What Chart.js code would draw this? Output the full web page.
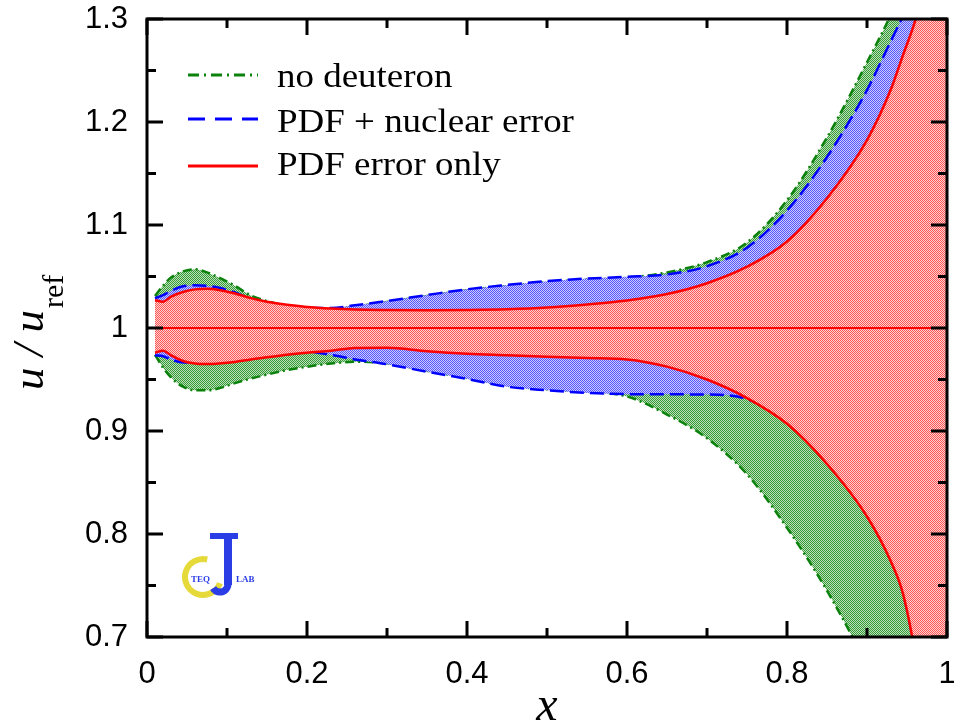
<!DOCTYPE html>
<html>
<head>
<meta charset="utf-8">
<script src="https://cdn.jsdelivr.net/npm/chart.js@4.4.1/dist/chart.umd.min.js"></script>
<style>
  html, body { margin: 0; padding: 0; background: #fff; }
  #wrap { width: 954px; height: 724px; }
</style>
</head>
<body>
<div id="wrap"><canvas id="myChart"></canvas></div>
<script>
// values
const xVals = [0.01, 0.02, 0.03, 0.045, 0.06, 0.075, 0.09, 0.11, 0.13, 0.15, 0.175, 0.2, 0.23, 0.26, 0.3,
  0.35, 0.4, 0.45, 0.5, 0.55, 0.6, 0.65, 0.7, 0.75, 0.8, 0.85, 0.9, 0.93, 0.945, 0.96, 1.0];

// no deuteron band
const noDeutHi = [1.031, 1.041, 1.049, 1.055, 1.057, 1.054, 1.049, 1.041, 1.0315, 1.0262, 1.0215, 1.0195, 1.018, 1.021, 1.0252,
  1.031, 1.0366, 1.0408, 1.0445, 1.047, 1.0487, 1.054, 1.064, 1.083, 1.124, 1.185, 1.258, 1.305, 1.335, 1.37, 1.52];
const noDeutLo = [0.974, 0.9615, 0.952, 0.943, 0.9395, 0.9395, 0.9415, 0.9465, 0.951, 0.9548, 0.9592, 0.9624, 0.9655, 0.9672, 0.9658,
  0.9585, 0.9515, 0.944, 0.9405, 0.938, 0.9335, 0.916, 0.893, 0.858, 0.806, 0.745, 0.672, 0.62, 0.59, 0.56, 0.46];

// PDF + nuclear error band
const nuclearHi = [1.0288, 1.032, 1.036, 1.0405, 1.0415, 1.041, 1.039, 1.0345, 1.028, 1.0245, 1.0215, 1.0195, 1.0195, 1.022, 1.0262,
  1.032, 1.0376, 1.0418, 1.0455, 1.048, 1.0497, 1.052, 1.060, 1.078, 1.114, 1.166, 1.231, 1.279, 1.303, 1.33, 1.48];
const nuclearLo = [0.9735, 0.9725, 0.9695, 0.9665, 0.9665, 0.966, 0.9665, 0.968, 0.9705, 0.9725, 0.975, 0.977, 0.9738, 0.9695, 0.9648,
  0.9575, 0.9505, 0.943, 0.9395, 0.937, 0.9358, 0.9356, 0.9354, 0.931, 0.908, 0.869, 0.818, 0.774, 0.743, 0.686, 0.481];

// PDF error only band
const pdfHi = [1.027, 1.0255, 1.0305, 1.035, 1.0375, 1.038, 1.037, 1.0335, 1.029, 1.0255, 1.0225, 1.0205, 1.019, 1.018, 1.0175,
  1.0172, 1.0175, 1.0182, 1.0198, 1.0228, 1.0268, 1.033, 1.0435, 1.0595, 1.084, 1.126, 1.1825, 1.232, 1.265, 1.298, 1.42];
const pdfLo = [0.976, 0.978, 0.9735, 0.968, 0.9655, 0.965, 0.9655, 0.967, 0.9695, 0.9715, 0.974, 0.976, 0.978, 0.9805, 0.9808,
  0.9775, 0.975, 0.9735, 0.972, 0.9708, 0.9695, 0.9625, 0.950, 0.932, 0.907, 0.868, 0.817, 0.773, 0.742, 0.685, 0.48];

// reference line u/u_ref = 1
const refX = [0.01, 1.0];
const refY = [1, 1];

// axis ticks
const xMajor = [0, 0.2, 0.4, 0.6, 0.8, 1];
const xMinor = [0.1, 0.3, 0.5, 0.7, 0.9];
const yMajor = [0.7, 0.8, 0.9, 1, 1.1, 1.2, 1.3];
const yMinor = [0.75, 0.85, 0.95, 1.05, 1.15, 1.25];

const legendLabels = ['no deuteron', 'PDF + nuclear error', 'PDF error only'];

const canvas = document.getElementById('myChart');
const ctx0 = canvas.getContext('2d');

// dotted fill like the original print
function stipple(c1, c2) {
  const p = document.createElement('canvas');
  p.width = 2; p.height = 2;
  const g = p.getContext('2d');
  g.fillStyle = c2; g.fillRect(0, 0, 2, 2);
  g.fillStyle = c1; g.fillRect(0, 0, 1, 1); g.fillRect(1, 1, 1, 1);
  return ctx0.createPattern(p, 'repeat');
}

const GREEN = '#0b820b', BLUE = '#0000ff', RED = '#ff0000';
const greenFill = stipple('rgb(55,155,55)', 'rgb(185,222,185)');
const blueFill = stipple('rgb(85,85,255)', 'rgb(205,205,255)');
const redFill = stipple('rgb(255,85,85)', 'rgb(255,210,210)');

const pts = (xs, ys) => xs.map((v, i) => ({ x: v, y: ys[i] }));

function band(label, ys, color, fill, dash, order, fillTo) {
  return {
    label,
    data: pts(xVals, ys),
    borderColor: color,
    backgroundColor: fill,
    borderWidth: 2.5,
    borderDash: dash,
    pointRadius: 0,
    cubicInterpolationMode: 'monotone',
    fill: fillTo,
    order
  };
}

const data = {
  datasets: [
    band('no deuteron', noDeutHi, GREEN, greenFill, [9, 4, 2, 4], 6, '+1'),
    band('no deuteron lo', noDeutLo, GREEN, greenFill, [9, 4, 2, 4], 5, false),
    band('PDF + nuclear error', nuclearHi, BLUE, blueFill, [14, 6], 4, '+1'),
    band('PDF + nuclear lo', nuclearLo, BLUE, blueFill, [14, 6], 3, false),
    band('PDF error only', pdfHi, RED, redFill, [], 2, '+1'),
    band('PDF error lo', pdfLo, RED, redFill, [], 1, false),
    {
      label: 'ref',
      data: pts(refX, refY),
      borderColor: RED,
      borderWidth: 2,
      pointRadius: 0,
      fill: false,
      order: 0
    }
  ]
};

// frame with inward ticks, legend, axis titles, logo
const decorations = {
  id: 'decorations',
  afterDraw(chart) {
    const { ctx, chartArea: { top, bottom, left, right }, scales: { x, y } } = chart;
    ctx.save();

    ctx.strokeStyle = '#000';
    ctx.lineWidth = 3;
    ctx.lineCap = 'butt';
    ctx.setLineDash([]);
    ctx.strokeRect(left, top, right - left, bottom - top);

    const tick = (list, len) => {
      list.forEach(v => {
        const px = x.getPixelForValue(v);
        ctx.beginPath();
        ctx.moveTo(px, bottom); ctx.lineTo(px, bottom - len);
        ctx.moveTo(px, top); ctx.lineTo(px, top + len);
        ctx.stroke();
      });
    };
    const ytick = (list, len) => {
      list.forEach(v => {
        const py = y.getPixelForValue(v);
        ctx.beginPath();
        ctx.moveTo(left, py); ctx.lineTo(left + len, py);
        ctx.moveTo(right, py); ctx.lineTo(right - len, py);
        ctx.stroke();
      });
    };
    tick(xMajor, 16); tick(xMinor, 9);
    ytick(yMajor, 16); ytick(yMinor, 9);

    // legend
    const styles = [[GREEN, [11, 5, 2, 5]], [BLUE, [17, 10]], [RED, []]];
    const lineY = [75, 119, 166];
    const textY = [87, 132, 175];
    legendLabels.forEach((lab, i) => {
      ctx.strokeStyle = styles[i][0];
      ctx.setLineDash(styles[i][1]);
      ctx.lineWidth = 3;
      ctx.beginPath();
      ctx.moveTo(188, lineY[i]); ctx.lineTo(258, lineY[i]);
      ctx.stroke();
      ctx.save();
      ctx.translate(277, textY[i]);
      ctx.scale(1.12, 1);
      ctx.fillStyle = '#000';
      ctx.font = '33px "Liberation Serif"';
      ctx.textAlign = 'left';
      ctx.textBaseline = 'alphabetic';
      ctx.fillText(lab, 0, 0);
      ctx.restore();
    });
    ctx.setLineDash([]);

    // x title
    ctx.fillStyle = '#000';
    ctx.font = 'italic 48px "Liberation Serif"';
    ctx.textAlign = 'center';
    ctx.textBaseline = 'alphabetic';
    ctx.fillText('x', (left + right) / 2, 720);

    // y title
    ctx.save();
    ctx.translate(43, 390);
    ctx.rotate(-Math.PI / 2);
    ctx.textAlign = 'left';
    ctx.font = 'italic 45px "Liberation Serif"';
    ctx.fillText('u / u', 0, 0);
    const w = ctx.measureText('u / u').width;
    ctx.font = '30px "Liberation Serif"';
    ctx.fillText('ref', w + 2, 20);
    ctx.restore();

    // JLab logo
    ctx.strokeStyle = '#e6da3a';
    ctx.lineWidth = 6;
    ctx.beginPath();
    ctx.arc(203, 577, 18, 0.35, 4.95);
    ctx.stroke();
    ctx.fillStyle = '#2b3ee6';
    ctx.fillRect(210, 533, 28, 6);
    ctx.fillRect(224, 533, 8, 52);
    ctx.strokeStyle = '#2b3ee6';
    ctx.lineWidth = 7;
    ctx.beginPath();
    ctx.arc(220, 584, 8, 0, 2.6);
    ctx.stroke();
    ctx.font = 'bold 9px "Liberation Serif"';
    ctx.textAlign = 'left';
    ctx.fillText('TEQ', 191, 582);
    ctx.fillText('LAB', 236, 582);

    ctx.restore();
  }
};

const tickFont = { family: '"Liberation Sans", Arial, sans-serif', size: 31 };
const tickText = v => String(parseFloat(Number(v).toFixed(2)));

const fitX = s => { s.height = 87; s.paddingLeft = 0; s.paddingRight = 0; s.paddingTop = 0; s.paddingBottom = 0; };
const fitY = s => { s.width = 147; s.paddingLeft = 0; s.paddingRight = 0; s.paddingTop = 0; s.paddingBottom = 0; };

const config = {
  type: 'line',
  data,
  options: {
    responsive: true,
    maintainAspectRatio: false,
    animation: false,
    layout: { padding: { top: 19, right: 7, left: 0, bottom: 0 } },
    plugins: {
      legend: { display: false },
      tooltip: { enabled: false }
    },
    scales: {
      x: {
        type: 'linear',
        min: 0,
        max: 1,
        grid: { display: false, drawTicks: false },
        border: { display: false },
        afterBuildTicks: s => { s.ticks = xMajor.map(v => ({ value: v })); },
        afterFit: fitX,
        ticks: { color: '#000', font: tickFont, padding: 19, maxRotation: 0, autoSkip: false, callback: tickText }
      },
      y: {
        type: 'linear',
        min: 0.7,
        max: 1.3,
        grid: { display: false, drawTicks: false },
        border: { display: false },
        afterBuildTicks: s => { s.ticks = yMajor.map(v => ({ value: v })); },
        afterFit: fitY,
        ticks: { color: '#000', font: tickFont, padding: 19, autoSkip: false, callback: tickText }
      }
    }
  },
  plugins: [decorations]
};

const myChart = new Chart(canvas, config);
</script>
</body>
</html>
